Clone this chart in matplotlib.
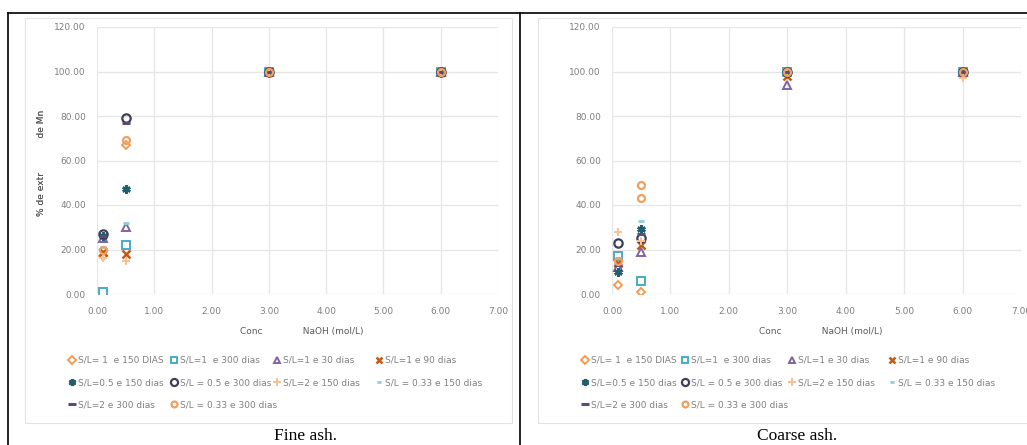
import matplotlib
matplotlib.use("Agg")
import matplotlib.pyplot as plt
from matplotlib.lines import Line2D
from matplotlib.patches import Rectangle
from matplotlib.legend import Legend

# NaOH concentrations (mol/L)
conc = [0.1, 0.5, 3.0, 6.0]

series_names = [
    "S/L= 1  e 150 DIAS",
    "S/L=1  e 300 dias",
    "S/L=1 e 30 dias",
    "S/L=1 e 90 dias",
    "S/L=0.5 e 150 dias",
    "S/L = 0.5 e 300 dias",
    "S/L=2 e 150 dias",
    "S/L = 0.33 e 150 dias",
    "S/L=2 e 300 dias",
    "S/L = 0.33 e 300 dias",
]

# % extraction of Mn, fine ash
fine_sl1_150 = [17.0, 67.0, 100.0, 100.0]
fine_sl1_300 = [1.0, 22.0, 100.0, 100.0]
fine_sl1_30 = [25.0, 30.0, 100.0, 100.0]
fine_sl1_90 = [19.0, 18.0, 100.0, 100.0]
fine_sl05_150 = [26.0, 47.0, 100.0, 100.0]
fine_sl05_300 = [27.0, 79.0, 100.0, 100.0]
fine_sl2_150 = [16.0, 15.0, 100.0, 100.0]
fine_sl033_150 = [21.0, 32.0, 100.0, 100.0]
fine_sl2_300 = [26.0, 77.0, 100.0, 100.0]
fine_sl033_300 = [20.0, 69.0, 100.0, 100.0]

# % extraction of Mn, coarse ash
coarse_sl1_150 = [4.0, 1.0, 99.0, 100.0]
coarse_sl1_300 = [17.0, 6.0, 100.0, 100.0]
coarse_sl1_30 = [12.0, 19.0, 94.0, 100.0]
coarse_sl1_90 = [14.0, 22.0, 98.0, 100.0]
coarse_sl05_150 = [10.0, 29.0, 100.0, 100.0]
coarse_sl05_300 = [23.0, 25.0, 100.0, 100.0]
coarse_sl2_150 = [28.0, 24.0, 100.0, 97.0]
coarse_sl033_150 = [16.0, 33.0, 100.0, 100.0]
coarse_sl2_300 = [13.0, 27.0, 100.0, 100.0]
coarse_sl033_300 = [15.0, 49.0, 100.0, 100.0]
coarse_extra_043 = [43.0]

fine = [fine_sl1_150, fine_sl1_300, fine_sl1_30, fine_sl1_90, fine_sl05_150,
        fine_sl05_300, fine_sl2_150, fine_sl033_150, fine_sl2_300, fine_sl033_300]
coarse = [coarse_sl1_150, coarse_sl1_300, coarse_sl1_30, coarse_sl1_90, coarse_sl05_150,
          coarse_sl05_300, coarse_sl2_150, coarse_sl033_150, coarse_sl2_300, coarse_sl033_300]

y_ticks = [0, 20, 40, 60, 80, 100, 120]
x_ticks = [0, 1, 2, 3, 4, 5, 6, 7]

styles = [
    dict(marker="D", color="#F79646", ms=4.5, mew=1.3),
    dict(marker="s", color="#4BACC6", ms=5.5, mew=1.4),
    dict(marker="^", color="#8064A2", ms=5.5, mew=1.4),
    dict(marker="x", color="#C65911", ms=5.5, mew=1.8),
    dict(marker=(6, 2, 0), color="#215F6E", ms=6, mew=1.8),
    dict(marker="o", color="#3F3F58", ms=6, mew=1.6),
    dict(marker="+", color="#FAC090", ms=6, mew=1.4),
    dict(marker="_", color="#92CDDC", ms=4, mew=2.0),
    dict(marker="_", color="#5F497A", ms=6, mew=2.2),
    dict(marker="o", color="#F0A060", ms=5, mew=1.6),
]
open_markers = ("D", "s", "^", "o")

W, H = 1027, 445
fig = plt.figure(figsize=(W / 100, H / 100), dpi=100)
fig.patch.set_facecolor("white")

def fx(px):
    return px / W

def fy(py):
    return 1 - py / H

tick_col = "#7F7F7F"

def draw_panel(x0, x1, data, caption, cap_x, frame_x0, frame_x1, leg_cols, extra=None):
    # chart frame
    fig.add_artist(Rectangle((fx(frame_x0), fy(423)), fx(frame_x1 - frame_x0), (423 - 18) / H,
                             transform=fig.transFigure, fill=False, edgecolor="#E3E3E3", lw=0.8))
    ax = fig.add_axes([fx(x0), fy(294), fx(x1 - x0), (294 - 27) / H])
    ax.set_facecolor("white")
    handles = []
    for name, vals, st in zip(series_names, data, styles):
        face = "none" if st["marker"] in open_markers else st["color"]
        h, = ax.plot(conc, vals, linestyle="none", marker=st["marker"], markersize=st["ms"],
                     markeredgewidth=st["mew"], markeredgecolor=st["color"],
                     markerfacecolor=face, label=name)
        handles.append(h)
    if extra is not None:
        ax.plot([0.5], extra, linestyle="none", marker="o", markersize=5,
                markeredgewidth=1.6, markeredgecolor="#F0A060", markerfacecolor="none")
    ax.set_xlim(0, 7)
    ax.set_ylim(0, 120)
    ax.set_xticks(x_ticks)
    ax.set_yticks(y_ticks)
    ax.set_xticklabels([f"{v:.2f}" for v in x_ticks])
    ax.set_yticklabels([f"{v:.2f}" for v in y_ticks])
    ax.tick_params(axis="both", labelsize=6.5, colors=tick_col, length=0)
    ax.tick_params(axis="x", pad=9)
    ax.tick_params(axis="y", pad=8)
    ax.grid(True, color="#E6E6E6", lw=0.9)
    ax.set_axisbelow(True)
    for sp in ax.spines.values():
        sp.set_visible(False)
    ax.set_xlabel("Conc              NaOH (mol/L)", fontsize=6.5, color="#595959")
    ax.xaxis.set_label_coords(0.51, -0.125)
    ax.set_ylabel("% de extr            de Mn", fontsize=6.5, color="#595959")
    ax.yaxis.set_label_coords((46 - x0) / (x1 - x0), 0.49)

    # legend: four columns, filled row by row
    width = x1 - x0
    for c, cx in enumerate(leg_cols):
        idx = list(range(c, len(handles), 4))
        leg = Legend(ax, [handles[i] for i in idx], [series_names[i] for i in idx],
                     loc="upper left", bbox_to_anchor=((cx - x0) / width, -0.232),
                     frameon=False, fontsize=6.5, handlelength=0.7, handletextpad=0.35,
                     labelspacing=1.45, markerscale=0.85, borderpad=0, borderaxespad=0)
        for t in leg.get_texts():
            t.set_color("#7F7F7F")
        ax.add_artist(leg)

    fig.text(fx(cap_x), fy(436), caption, ha="center", va="center",
             fontsize=12.5, family="Liberation Serif", color="black")
    return ax

draw_panel(97, 498, fine, "Fine ash.", 305, 25, 512, [69, 171, 274, 376])
draw_panel(612, 1021, coarse, "Coarse ash.", 797, 538, 1030, [582, 682, 789, 889],
           extra=coarse_extra_043)

# table borders
for (xa, ya, xb, yb) in [(8, 13, 1027, 13), (8, 13, 8, 445), (520, 13, 520, 445)]:
    fig.add_artist(Line2D([fx(xa), fx(xb)], [fy(ya), fy(yb)], transform=fig.transFigure,
                          color="black", lw=1.2))

fig.savefig("out.png", dpi=100)
